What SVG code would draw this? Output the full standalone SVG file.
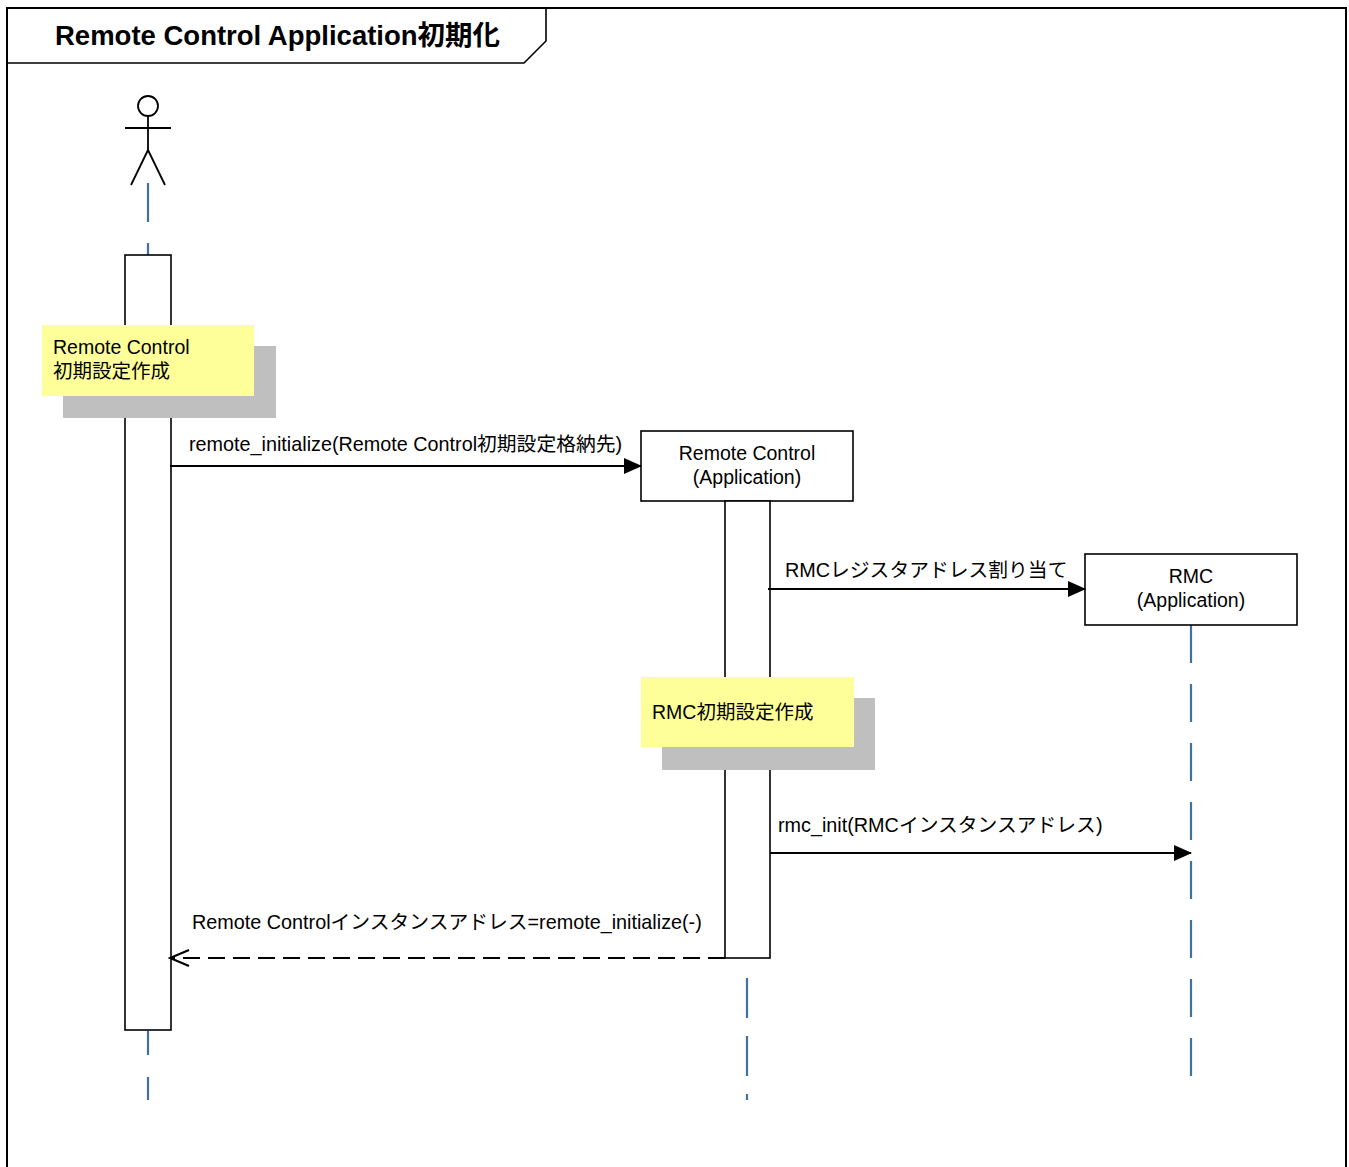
<svg xmlns="http://www.w3.org/2000/svg" width="1349" height="1167" viewBox="0 0 1349 1167">
<style>
text{font-family:"Liberation Sans","Noto Sans CJK JP",sans-serif;font-size:19.5px;fill:#000}
.lbl{font-size:19.8px}
.title{font-weight:bold;font-size:27.5px}
.box{fill:#fff;stroke:#000;stroke-width:1.6}
.act{fill:#fff;stroke:#000;stroke-width:1.6}
.life{stroke:#41719C;stroke-width:2.2;stroke-dasharray:39 21;fill:none}
.note{fill:#FFFF99}
.shadow{fill:#BFBFBF}
.msg{stroke:#000;stroke-width:2.2;fill:none}
.ret{stroke:#000;stroke-width:2.2;fill:none;stroke-dasharray:17 8}
.mid{text-anchor:middle}
</style>
<defs>
<marker id="filled" markerWidth="18" markerHeight="18" refX="17" refY="9" orient="auto" markerUnits="userSpaceOnUse">
<path d="M0,1 L18,9 L0,17 Z" fill="#000"/>
</marker>
<marker id="open" markerWidth="22" markerHeight="18" refX="20" refY="9" orient="auto" markerUnits="userSpaceOnUse">
<path d="M1,1 L20,9 L1,17" fill="none" stroke="#000" stroke-width="2.2"/>
</marker>
</defs>
<rect x="0" y="0" width="1349" height="1167" fill="#fff"/>
<g id="frame">
<path d="M7,1167 L7,8 L1346,8 L1346,1167" fill="none" stroke="#000" stroke-width="2"/>
<path d="M7,63 L524,63 L546,41 L546,8" fill="none" stroke="#000" stroke-width="1.6"/>
<text class="title" x="55" y="45">Remote Control Application初期化</text>
</g>
<g id="lifelines">
<line class="life" x1="148" y1="183" x2="148" y2="255"/>
<line class="life" x1="148" y1="1031" x2="148" y2="1100" style="stroke-dasharray:24 22"/>
<line class="life" x1="747" y1="978" x2="747" y2="1100" style="stroke-dasharray:40 18"/>
<line class="life" x1="1191" y1="625" x2="1191" y2="1081" style="stroke-dasharray:38 21"/>
</g>
<g id="actor" stroke="#000" stroke-width="1.8" fill="none">
<circle cx="148" cy="106" r="10" fill="#fff"/>
<line x1="125" y1="128" x2="171" y2="128"/>
<line x1="148" y1="116" x2="148" y2="150"/>
<line x1="148" y1="150" x2="131" y2="185"/>
<line x1="148" y1="150" x2="165" y2="185"/>
</g>
<g id="actor-activation">
<rect class="act" x="125" y="255" width="46" height="775"/>
</g>
<g id="note-rc">
<rect class="shadow" x="63" y="346" width="213" height="72"/>
<rect class="note" x="42" y="325" width="212" height="71"/>
<text x="53" y="354">Remote Control</text>
<text x="53" y="378">初期設定作成</text>
</g>
<g id="rc-app">
<rect class="box" x="641" y="431" width="212" height="70"/>
<text class="mid" x="747" y="460">Remote Control</text>
<text class="mid" x="747" y="484">(Application)</text>
</g>
<g id="rc-activation">
<rect class="act" x="725" y="501" width="45" height="457"/>
</g>
<g id="rmc-app">
<rect class="box" x="1085" y="554" width="212" height="71"/>
<text class="mid" x="1191" y="583">RMC</text>
<text class="mid" x="1191" y="607">(Application)</text>
</g>
<g id="note-rmc">
<rect class="shadow" x="662" y="698" width="213" height="72"/>
<rect class="note" x="641" y="677" width="213" height="70"/>
<text x="652" y="719">RMC初期設定作成</text>
</g>
<g id="connectors">
<line class="msg" x1="170" y1="466" x2="641" y2="466" marker-end="url(#filled)"/>
<text class="lbl" x="189" y="451">remote_initialize(Remote Control初期設定格納先)</text>
<line class="msg" x1="768" y1="589" x2="1085" y2="589" marker-end="url(#filled)"/>
<text class="lbl" x="785" y="577">RMCレジスタアドレス割り当て</text>
<line class="msg" x1="770" y1="853" x2="1191" y2="853" marker-end="url(#filled)"/>
<text class="lbl" x="778" y="832">rmc_init(RMCインスタンスアドレス)</text>
<line class="ret" x1="725" y1="958" x2="170" y2="958" marker-end="url(#open)"/>
<text class="lbl" x="192" y="929">Remote Controlインスタンスアドレス=remote_initialize(-)</text>
</g>
</svg>
